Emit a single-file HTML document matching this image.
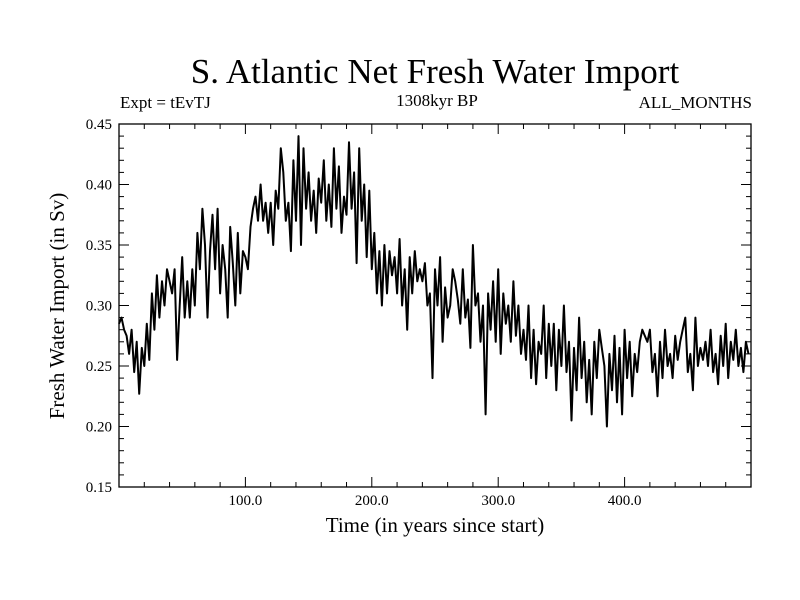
<!DOCTYPE html>
<html><head><meta charset="utf-8"><style>
html,body{margin:0;padding:0;background:#fff}
svg{display:block}
text{font-family:"Liberation Serif",serif;fill:#000}
</style></head><body>
<svg id="chart" width="800" height="600">
<rect width="800" height="600" fill="#fff"/>
<text x="435" y="83" font-size="35" text-anchor="middle">S. Atlantic Net Fresh Water Import</text>
<text x="120" y="108" font-size="17">Expt = tEvTJ</text>
<text x="437" y="106" font-size="17" text-anchor="middle">1308kyr BP</text>
<text x="752" y="108" font-size="17" text-anchor="end">ALL_MONTHS</text>
<text x="435" y="532" font-size="21" text-anchor="middle">Time (in years since start)</text>
<text transform="translate(64,306) rotate(-90)" font-size="21" text-anchor="middle">Fresh Water Import (in Sv)</text>
<g id="axes"></g>
<path id="line" fill="none" stroke="#000" stroke-width="2" stroke-linejoin="round"/>
<rect x="119" y="124" width="632" height="363" fill="none" stroke="#000" stroke-width="1.3"/>
</svg>
<script>
const xTicks=[100,200,300,400];
const xTickLabels=["100.0","200.0","300.0","400.0"];
const yTicks=[0.15,0.20,0.25,0.30,0.35,0.40,0.45];
const yTickLabels=["0.15","0.20","0.25","0.30","0.35","0.40","0.45"];
const startYear=0, stepYears=2;
const values=[0.285,0.29,0.28,0.275,0.26,0.28,0.245,0.27,0.227,0.265,0.25,0.285,0.255,0.31,0.28,0.325,0.29,0.32,0.3,0.33,
0.32,0.31,0.33,0.255,0.3,0.34,0.29,0.32,0.29,0.33,0.3,0.36,0.33,0.38,0.35,0.29,0.345,0.375,0.33,0.38,0.31,0.35,0.33,0.29,0.365,0.335,0.3,0.36,0.31,0.345,0.34,0.33,0.365,0.38,0.39,0.37,0.4,0.37,0.385,0.36,0.385,0.35,0.395,0.38,0.43,
0.41,0.37,0.385,0.345,0.42,0.37,0.44,0.35,0.43,0.38,0.41,0.37,0.395,0.36,0.405,0.385,0.42,0.37,0.4,0.365,0.43,0.38,0.415,0.36,0.39,0.375,0.435,0.38,0.41,0.335,0.43,0.37,0.4,0.34,0.395,0.33,0.36,0.31,0.345,0.3,0.35,0.31,0.345,0.325,0.34,0.31,0.355,0.3,0.33,0.28,0.34,0.31,0.345,0.32,0.33,0.32,0.335,0.3,0.31,0.24,0.33,0.3,0.34,0.27,0.315,0.29,0.3,0.33,0.32,0.305,0.285,0.33,0.29,0.305,0.265,0.35,0.3,0.31,0.27,0.3,0.21,0.31,0.28,0.32,0.27,0.33,0.26,0.31,0.285,0.3,0.27,0.32,0.275,0.3,0.26,0.28,0.255,0.3,0.24,0.28,0.235,0.27,0.26,0.3,0.24,0.285,0.25,0.285,0.23,0.28,0.25,0.3,0.245,0.27,0.205,0.265,0.23,0.29,0.24,0.27,0.22,0.255,0.21,0.27,0.24,0.28,0.265,0.25,0.2,0.26,0.23,0.275,0.22,0.265,0.21,0.28,0.24,0.27,0.225,0.26,0.245,0.27,0.28,0.275,0.27,0.28,0.245,0.26,0.225,0.27,0.24,0.28,0.25,0.26,0.24,0.275,0.255,0.27,0.28,0.29,0.245,0.26,0.23,0.29,0.25,0.265,0.255,
0.27,0.25,0.28,0.245,0.26,0.235,0.275,0.25,0.285,0.24,0.27,0.255,0.28,0.25,0.265,0.245,0.27,0.26];
const X0=119,X1=751,Y0=487,Y1=124,XMIN=0,XMAX=500,YMIN=0.15,YMAX=0.45;
const sx=v=>X0+(v-XMIN)/(XMAX-XMIN)*(X1-X0);
const sy=v=>Y0-(v-YMIN)/(YMAX-YMIN)*(Y0-Y1);
const ns="http://www.w3.org/2000/svg";
const ax=document.getElementById('axes');
function mk(tag,attrs){const e=document.createElementNS(ns,tag);for(const k in attrs)e.setAttribute(k,attrs[k]);ax.appendChild(e);return e;}
for(let v=20;v<500;v+=20){const x=sx(v);const big=v%100===0;
 const a=mk('line',{x1:x,x2:x,y1:Y0,y2:Y0-(big?10:5),stroke:'#000'});
 
 
 const b=mk('line',{x1:x,x2:x,y1:Y1,y2:Y1+(big?10:5),stroke:'#000'});
 
 }
xTicks.forEach((v,i)=>{const t=mk('text',{x:sx(v),y:505,'font-size':15,'text-anchor':'middle'});t.textContent=xTickLabels[i];
 
 });
for(let k=0;k<=30;k++){const v=YMIN+k*0.01;const y=sy(v);const big=k%5===0;
 const a=mk('line',{x1:X0,x2:X0+(big?10:5),y1:y,y2:y,stroke:'#000'});
 
 
 const b=mk('line',{x1:X1,x2:X1-(big?10:5),y1:y,y2:y,stroke:'#000'});
 
 }
yTicks.forEach((v,i)=>{const t=mk('text',{x:112,y:sy(v)+5,'font-size':15,'text-anchor':'end'});t.textContent=yTickLabels[i];
 
 });
document.getElementById('line').setAttribute('d',values.map((v,i)=>(i?'L':'M')+sx(Math.min(startYear+i*stepYears,XMAX)).toFixed(1)+','+sy(v).toFixed(1)).join(''));
</script>
</body></html>
